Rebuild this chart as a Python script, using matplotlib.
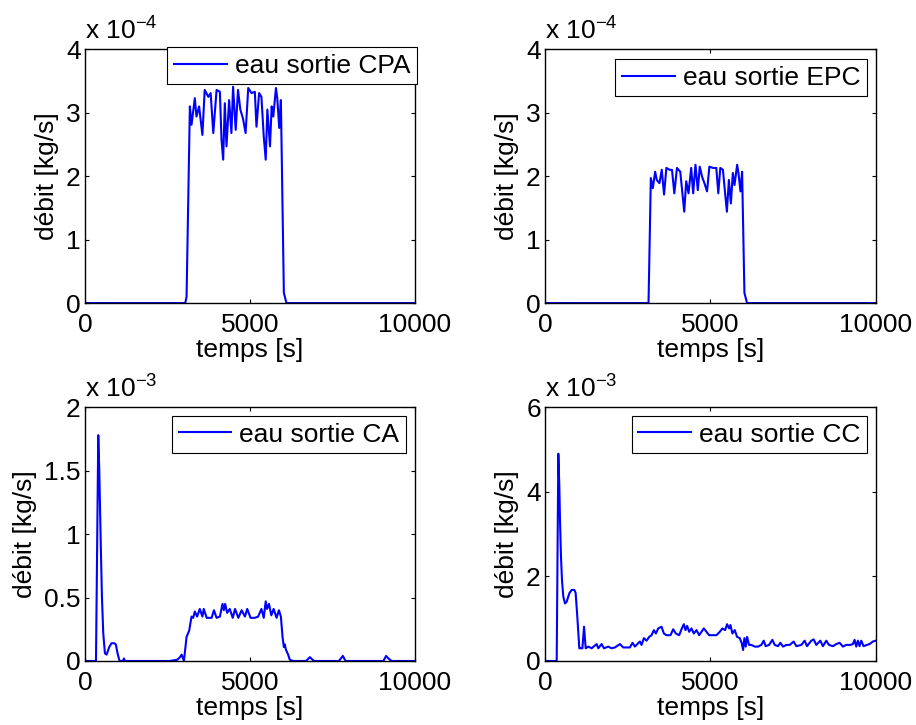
import matplotlib
matplotlib.use('Agg')
import matplotlib.pyplot as plt

plt.rcParams['font.family'] = ['Liberation Sans', 'DejaVu Sans']
plt.rcParams['mathtext.fontset'] = 'custom'
plt.rcParams['mathtext.rm'] = 'Liberation Sans'
plt.rcParams['mathtext.it'] = 'Liberation Sans:italic'
plt.rcParams['mathtext.bf'] = 'Liberation Sans:bold'

# temps [s] / débit (in units of the axis multiplier)
cpa_t = [0, 3040, 3080, 3180, 3230, 3330, 3380, 3460, 3560, 3630, 3740, 3810, 3890, 3990, 4090,
         4140, 4190, 4240, 4290, 4370, 4440, 4490, 4570, 4640, 4710, 4790, 4870, 4950, 5050, 5150,
         5200, 5280, 5350, 5420, 5480, 5530, 5610, 5660, 5710, 5790, 5830, 5890, 5940, 6030, 6110, 10000]
cpa_v = [0, 0, 0.1, 3.10, 2.81, 3.23, 2.94, 3.10, 2.65, 3.36, 3.25, 3.31, 2.68, 3.36, 3.33,
         2.57, 2.26, 3.15, 2.47, 3.20, 2.68, 3.41, 2.73, 3.36, 3.05, 2.91, 2.68, 3.39, 3.31, 3.33,
         2.78, 3.31, 3.25, 2.63, 2.26, 3.05, 2.47, 3.10, 2.94, 3.39, 3.23, 2.76, 3.20, 0.16, 0, 0]

epc_t = [0, 3130, 3200, 3260, 3330, 3380, 3460, 3530, 3600, 3670, 3770, 3840, 3910, 3990, 4090,
         4170, 4210, 4270, 4340, 4420, 4480, 4550, 4620, 4680, 4750, 4820, 4900, 4970, 5080, 5180,
         5240, 5300, 5380, 5450, 5500, 5560, 5620, 5680, 5730, 5810, 5850, 5910, 5960, 6030, 6110, 10000]
epc_v = [0, 0, 1.97, 1.81, 2.07, 1.94, 1.89, 2.10, 1.71, 2.13, 2.10, 2.10, 1.73, 2.13, 2.07,
         1.65, 1.44, 1.92, 1.73, 2.13, 1.73, 2.18, 1.78, 2.15, 1.99, 1.89, 1.76, 2.15, 2.13, 2.13,
         1.73, 2.13, 2.10, 1.71, 1.44, 1.94, 1.57, 2.05, 1.86, 2.18, 2.05, 1.76, 2.07, 0.16, 0, 0]

ca_t = [0, 333, 402, 433, 473, 513, 553, 604, 654, 735, 805, 886, 936, 987, 1037, 1060, 1150,
        1180, 1210, 2570, 2800, 2880, 2930, 3000, 3080, 3160, 3230, 3280, 3330, 3400, 3480, 3560,
        3600, 3690, 3840, 3910, 3990, 4090, 4170, 4210, 4250, 4310, 4390, 4480, 4550, 4650, 4750,
        4850, 4920, 5020, 5150, 5250, 5350, 5420, 5480, 5520, 5580, 5650, 5720, 5810, 5880, 5940,
        5990, 6030, 6060, 6090, 6160, 6210, 6310, 6700, 6820, 6900, 6950, 7700, 7820, 7900, 9050,
        9130, 9200, 9300, 10000]
ca_v = [0, 0, 1.78, 1.50, 0.98, 0.51, 0.22, 0.06, 0.05, 0.11, 0.14, 0.14, 0.13, 0.06, 0.01, 0, 0,
        0.02, 0, 0, 0.01, 0.03, 0.05, 0, 0.19, 0.24, 0.35, 0.34, 0.39, 0.35, 0.41, 0.35,
        0.41, 0.34, 0.34, 0.40, 0.34, 0.35, 0.45, 0.40, 0.45, 0.38, 0.41, 0.34, 0.41, 0.34, 0.40,
        0.35, 0.41, 0.34, 0.34, 0.35, 0.41, 0.34, 0.47, 0.41, 0.45, 0.36, 0.41, 0.34, 0.40, 0.35,
        0.19, 0.11, 0.13, 0.09, 0.05, 0.01, 0, 0, 0.03, 0.01, 0, 0, 0.04, 0, 0,
        0.04, 0.02, 0, 0]

cc_t = [0, 353, 402, 433, 453, 483, 513, 553, 604, 654, 735, 805, 886, 926, 976, 1037, 1060,
        1130, 1180, 1230, 1310, 1410,
        1560, 1611, 1712, 1782, 1913, 2014, 2114, 2265, 2365, 2567, 2647, 2718, 2818, 2869, 2919,
        2990, 3070, 3151, 3221, 3292, 3352, 3423, 3523, 3594, 3674, 3795, 3876, 3956, 4057, 4127,
        4198, 4248, 4298, 4359, 4429, 4500, 4580, 4661, 4731, 4802, 4882, 4963, 5084, 5184, 5285,
        5365, 5446, 5506, 5567, 5607, 5667, 5738, 5808, 5889, 5949, 5989, 6029, 6070, 6110, 6170,
        6241, 6342, 6442, 6543, 6613, 6674, 6775, 6875, 6946, 7046, 7117, 7197, 7298, 7399, 7519,
        7600, 7751, 7852, 7922, 8053, 8123, 8204, 8325, 8405, 8506, 8586, 8707, 8808, 8909, 9009,
        9110, 9231, 9311, 9361, 9412, 9462, 9512, 9563, 9633, 9734, 9815, 9915, 10000]
cc_v = [0, 0, 4.90, 4.12, 3.33, 2.46, 1.91, 1.52, 1.36, 1.40, 1.60, 1.68, 1.68, 1.61, 1.05, 0.30, 0.30,
        0.30, 0.81, 0.30, 0.34, 0.30,
        0.40, 0.30, 0.40, 0.30, 0.34, 0.30, 0.32, 0.40, 0.32, 0.32, 0.43, 0.34, 0.42, 0.46, 0.38,
        0.54, 0.48, 0.57, 0.61, 0.73, 0.65, 0.77, 0.81, 0.65, 0.61, 0.61, 0.75, 0.65, 0.61, 0.75,
        0.87, 0.73, 0.83, 0.69, 0.77, 0.65, 0.73, 0.61, 0.69, 0.77, 0.69, 0.61, 0.61, 0.61, 0.69,
        0.77, 0.73, 0.87, 0.77, 0.85, 0.65, 0.73, 0.57, 0.54, 0.42, 0.26, 0.54, 0.34, 0.57, 0.38,
        0.38, 0.34, 0.34, 0.38, 0.48, 0.35, 0.38, 0.50, 0.38, 0.35, 0.43, 0.34, 0.38, 0.38, 0.46,
        0.35, 0.38, 0.48, 0.35, 0.48, 0.51, 0.38, 0.48, 0.35, 0.48, 0.38, 0.35, 0.40, 0.43, 0.34,
        0.38, 0.38, 0.40, 0.50, 0.34, 0.48, 0.35, 0.48, 0.35, 0.38, 0.40, 0.46, 0.48]

panels = [
    (cpa_t, cpa_v, 'eau sortie CPA', -4, [0, 1, 2, 3, 4], ['0', '1', '2', '3', '4']),
    (epc_t, epc_v, 'eau sortie EPC', -4, [0, 1, 2, 3, 4], ['0', '1', '2', '3', '4']),
    (ca_t, ca_v, 'eau sortie CA', -3, [0, 0.5, 1, 1.5, 2], ['0', '0.5', '1', '1.5', '2']),
    (cc_t, cc_v, 'eau sortie CC', -3, [0, 2, 4, 6], ['0', '2', '4', '6']),
]

# axes rectangles [left, bottom, width, height] in figure fraction
rects = [[0.0928, 0.582, 0.360, 0.350], [0.595, 0.582, 0.361, 0.350],
         [0.0928, 0.0883, 0.360, 0.350], [0.595, 0.0883, 0.361, 0.350]]
legend_anchor = [(1.006, 1.008), (0.973, 0.961), (0.973, 0.965), (0.973, 0.965)]

fs = 19
fig = plt.figure(figsize=(9.16, 7.25), dpi=100)

for (t, v, name, expo, yt, ytl), rect, anchor in zip(panels, rects, legend_anchor):
    ax = fig.add_axes(rect)
    ax.plot(t, v, color='#0000ff', linewidth=1.5, label=name)
    ax.set_xlim(0, 10000)
    ax.set_ylim(yt[0], yt[-1])
    ax.set_xticks([0, 5000, 10000])
    ax.set_xticklabels(['0', '5000', '10000'])
    ax.set_yticks(yt)
    ax.set_yticklabels(ytl)
    ax.tick_params(direction='in', top=True, right=True, length=3, width=0.8,
                   labelsize=fs, pad=3)
    ax.tick_params(axis='x', pad=7)
    for sp in ax.spines.values():
        sp.set_linewidth(1.0)
        sp.set_color('black')
    ax.set_xlabel('temps [s]', fontsize=fs, labelpad=1)
    ax.set_ylabel('débit [kg/s]', fontsize=fs, labelpad=5)
    ax.text(0.0, 1.02, r'x 10$^{%d}$' % expo, transform=ax.transAxes,
            fontsize=fs, ha='left', va='bottom')
    leg = ax.legend(loc='upper right', bbox_to_anchor=anchor, borderaxespad=0,
                    fontsize=fs, fancybox=False, framealpha=1, handlelength=2.0,
                    handletextpad=0.3, borderpad=0.25)
    leg.get_frame().set_edgecolor('black')
    leg.get_frame().set_linewidth(0.8)

fig.savefig('out.png', dpi=100)
